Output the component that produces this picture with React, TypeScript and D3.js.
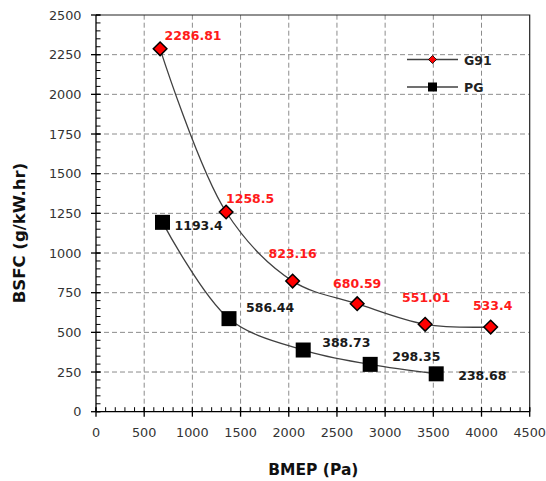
import React from "react";
import * as d3 from "d3";

// BSFC vs BMEP for the two fuels
const bmepG91 = [665, 1350, 2040, 2710, 3415, 4095];
const bsfcG91 = [2286.81, 1258.5, 823.16, 680.59, 551.01, 533.4];
const bmepPG = [690, 1380, 2150, 2845, 3530];
const bsfcPG = [1193.4, 586.44, 388.73, 298.35, 238.68];
const seriesNames = ["G91", "PG"];

const xTicks = [0, 500, 1000, 1500, 2000, 2500, 3000, 3500, 4000, 4500];
const yTicks = [0, 250, 500, 750, 1000, 1250, 1500, 1750, 2000, 2250, 2500];

// label placement relative to the point (px)
const g91LabelOff: [number, number][] = [[33, -9], [24, -9], [0, -23], [0, -16], [1, -22], [2, -17]];
const pgLabelOff: [number, number][] = [[12, 8], [17, -7], [19, -3], [22, -3], [22, 6]];

const W = 546;
const H = 481;
const FONT = "'DejaVu Sans', sans-serif";

export default function App() {
  const x = d3.scaleLinear().domain([0, 4500]).range([96, 529.7]);
  const y = d3.scaleLinear().domain([0, 2500]).range([411.7, 15]);
  const [x0, x1] = x.range();
  const [y0, y1] = y.range();

  const line = d3
    .line<[number, number]>()
    .x((d) => x(d[0]))
    .y((d) => y(d[1]))
    .curve(d3.curveCatmullRom.alpha(0.5));

  const g91 = bmepG91.map((v, i) => [v, bsfcG91[i]] as [number, number]);
  const pg = bmepPG.map((v, i) => [v, bsfcPG[i]] as [number, number]);

  const diamond = (cx: number, cy: number, r: number) =>
    `M${cx},${cy - r}L${cx + r},${cy}L${cx},${cy + r}L${cx - r},${cy}Z`;

  const xMinor = d3.range(0, 4501, 100);
  const yMinor = d3.range(0, 2501, 50);

  return (
    <svg width={W} height={H} style={{ position: "absolute", left: 0, top: 0, background: "#fff" }} fontFamily={FONT}>
      <rect width={W} height={H} fill="#fff" />

      {/* grid */}
      <g stroke="#8c8c8c" strokeWidth={1} strokeDasharray="5,3">
        {xTicks.filter((t) => t > 0 && t < 4500).map((t) => (
          <line key={"gx" + t} x1={x(t)} x2={x(t)} y1={y0} y2={y1} />
        ))}
        {yTicks.filter((t) => t > 0 && t < 2500).map((t) => (
          <line key={"gy" + t} x1={x0} x2={x1} y1={y(t)} y2={y(t)} />
        ))}
      </g>

      {/* frame top/right */}
      <path d={`M${x0},${y1}H${x1}V${y0}`} fill="none" stroke="#222" strokeWidth={1.2} />

      {/* axes */}
      <g stroke="#000" strokeWidth={1.3}>
        <line x1={x0} x2={x1} y1={y0} y2={y0} />
        <line x1={x0} x2={x0} y1={y0} y2={y1} />
        {xMinor.map((t) => (
          <line key={"mx" + t} x1={x(t)} x2={x(t)} y1={y0} y2={y0 - 4.5} strokeWidth={1} />
        ))}
        {yMinor.map((t) => (
          <line key={"my" + t} x1={x0} x2={x0 + 4.5} y1={y(t)} y2={y(t)} strokeWidth={1} />
        ))}
        {xTicks.map((t) => (
          <line key={"tx" + t} x1={x(t)} x2={x(t)} y1={y0 - 4.5} y2={y0 + 5} />
        ))}
        {yTicks.map((t) => (
          <line key={"ty" + t} x1={x0 - 5} x2={x0 + 4.5} y1={y(t)} y2={y(t)} />
        ))}
      </g>

      {/* tick labels */}
      <g fontSize={12.8} fill="#333">
        {xTicks.map((t) => (
          <text key={"lx" + t} x={x(t)} y={437} textAnchor="middle">{t}</text>
        ))}
        {yTicks.map((t) => (
          <text key={"ly" + t} x={81.5} y={y(t)} dy="0.36em" textAnchor="end">{t}</text>
        ))}
      </g>

      {/* axis titles */}
      <text x={(x0 + x1) / 2 + 0.5} y={475} textAnchor="middle" fontSize={15.5} fontWeight="bold" fill="#111">
        BMEP (Pa)
      </text>
      <text
        transform={`translate(24.5,233) rotate(-90)`}
        textAnchor="middle"
        fontSize={16.5}
        fontWeight="bold"
        fill="#111"
      >
        BSFC (g/kW.hr)
      </text>

      {/* curves */}
      <path d={line(g91) || ""} fill="none" stroke="#404040" strokeWidth={1.3} />
      <path d={line(pg) || ""} fill="none" stroke="#404040" strokeWidth={1.3} />

      {/* markers */}
      {pg.map((d, i) => (
        <rect key={"pg" + i} x={x(d[0]) - 7.5} y={y(d[1]) - 7.5} width={15} height={15} fill="#000" />
      ))}
      {g91.map((d, i) => (
        <path key={"g" + i} d={diamond(x(d[0]), y(d[1]), 6.8)} fill="#ff0000" stroke="#000" strokeWidth={1.5} />
      ))}

      {/* data labels */}
      <g fontSize={12.5} fontWeight="bold">
        {g91.map((d, i) => (
          <text
            key={"tg" + i}
            x={x(d[0]) + g91LabelOff[i][0]}
            y={y(d[1]) + g91LabelOff[i][1]}
            textAnchor="middle"
            fill="#ff1a1a"
          >
            {String(d[1])}
          </text>
        ))}
        {pg.map((d, i) => (
          <text key={"tp" + i} x={x(d[0]) + pgLabelOff[i][0]} y={y(d[1]) + pgLabelOff[i][1]} fill="#1a1a1a">
            {String(d[1])}
          </text>
        ))}
      </g>

      {/* legend */}
      <g>
        <line x1={407} x2={458} y1={59.5} y2={59.5} stroke="#404040" strokeWidth={1.3} />
        <path d={diamond(432.5, 59.5, 4)} fill="#ff0000" stroke="#000" strokeWidth={0.8} />
        <text x={464} y={64.5} fontSize={12.5} fontWeight="bold" fill="#222">{seriesNames[0]}</text>
        <line x1={407} x2={458} y1={87} y2={87} stroke="#404040" strokeWidth={1.3} />
        <rect x={428} y={82.5} width={9} height={9} fill="#000" />
        <text x={464} y={92} fontSize={12.5} fontWeight="bold" fill="#222">{seriesNames[1]}</text>
      </g>
    </svg>
  );
}
